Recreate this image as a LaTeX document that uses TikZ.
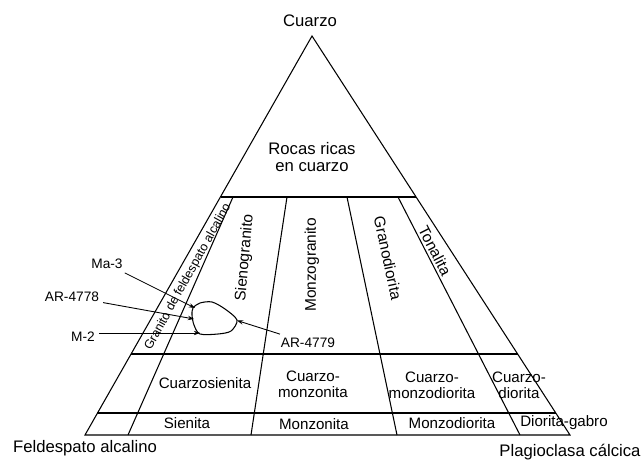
\documentclass[tikz,border=0pt]{standalone}
\usepackage{fontspec}
\setmainfont{Liberation Sans}
\usetikzlibrary{arrows.meta}
\begin{document}
\begin{tikzpicture}[line width=0.6pt,
  apexlbl/.style={font=\fontsize{9.5}{10}\selectfont, align=center, inner sep=0pt},
  field/.style={font=\fontsize{8.6}{9}\selectfont, align=center, inner sep=0pt},
  strip/.style={font=\fontsize{8.8}{9}\selectfont, inner sep=0pt},
  sample/.style={font=\fontsize{7.8}{8}\selectfont, inner sep=2pt},
  leader/.style={line width=0.5pt, -{Stealth[length=3.5pt,width=2.5pt]}}]
\useasboundingbox (0,0) rectangle (12.86,9.2);
\coordinate (Q) at (6.24,8.48);
\coordinate (A) at (1.70,0.50);
\coordinate (P) at (11.40,0.50);
\coordinate (Q60l) at (4.41,5.26);
\coordinate (Q60r) at (8.32,5.26);
\coordinate (Q20l) at (2.62,2.12);
\coordinate (Q20r) at (10.35,2.12);
\coordinate (Q5l) at (1.95,0.94);
\coordinate (Q5r) at (11.12,0.94);
\coordinate (L1t) at (4.66,5.26);
\coordinate (L1b) at (2.56,0.50);
\coordinate (L2t) at (5.74,5.26);
\coordinate (L2b) at (5.02,0.50);
\coordinate (L3t) at (6.94,5.26);
\coordinate (L3b) at (7.94,0.50);
\coordinate (L4t) at (7.96,5.26);
\coordinate (L4b) at (10.40,0.50);
\coordinate (b1) at (3.90,3.04);
\coordinate (b2) at (3.88,2.82);
\coordinate (b3) at (4.00,2.54);
\coordinate (b4) at (4.74,2.79);
\path node[apexlbl] (cuarzo) at (6.20,8.78) {Cuarzo}
node[apexlbl] (ricas) at (6.24,6.06) {Rocas ricas\\en cuarzo}
node[apexlbl] (feld) at (1.70,0.24) {Feldespato alcalino}
node[apexlbl] (plag) at (11.40,0.16) {Plagioclasa cálcica}
node[field, font=\fontsize{7.1}{8}\selectfont, rotate=61] (grfa) at (3.76,3.66) {Granito de feldespato alcalino}
node[strip, rotate=85] (sieno) at (4.90,4.04) {Sienogranito}
node[strip, rotate=90] (monzo) at (6.24,3.90) {Monzogranito}
node[strip, rotate=-78] (grano) at (7.76,4.04) {Granodiorita}
node[strip, rotate=-63] (tona) at (8.70,4.18) {Tonalita}
node[field] (qsien) at (4.10,1.54) {Cuarzosienita}
node[field] (sien) at (3.74,0.74) {Sienita}
node[field] (qmonz) at (6.26,1.52) {Cuarzo-\\monzonita}
node[field] (monz) at (6.28,0.72) {Monzonita}
node[field] (qmdio) at (8.64,1.50) {Cuarzo-\\monzodiorita}
node[field] (mdio) at (9.04,0.74) {Monzodiorita}
node[field] (qdio) at (10.38,1.50) {Cuarzo-\\diorita}
node[field] (diogab) at (11.28,0.74) {Diorita-gabro}
node[sample] (ma3) at (2.14,3.92) {Ma-3}
node[sample] (ar4778) at (1.44,3.26) {AR-4778}
node[sample] (m2) at (1.66,2.46) {M-2}
node[sample] (ar4779) at (6.16,2.34) {AR-4779}
;
\draw   (A) -- (Q) -- (P) -- cycle;
\draw   (Q60l) -- (Q60r);
\draw   (Q20l) -- (Q20r);
\draw   (Q5l) -- (Q5r);
\draw   (L1t) -- (L1b);
\draw   (L2t) -- (L2b);
\draw   (L3t) -- (L3b);
\draw   (L4t) -- (L4b);
\draw   plot[smooth cycle] coordinates {(3.86,3.04) (4.00,3.14) (4.24,3.16) (4.50,3.02) (4.74,2.80) (4.62,2.58) (4.36,2.52) (4.00,2.52) (3.88,2.70) (3.84,2.90)};
\draw[leader]   (ma3) -- (b1);
\draw[leader]   (ar4778) -- (b2);
\draw[leader]   (m2.east |- b3) -- (b3);
\draw[leader]   (ar4779) -- (b4);
\end{tikzpicture}
\end{document}
